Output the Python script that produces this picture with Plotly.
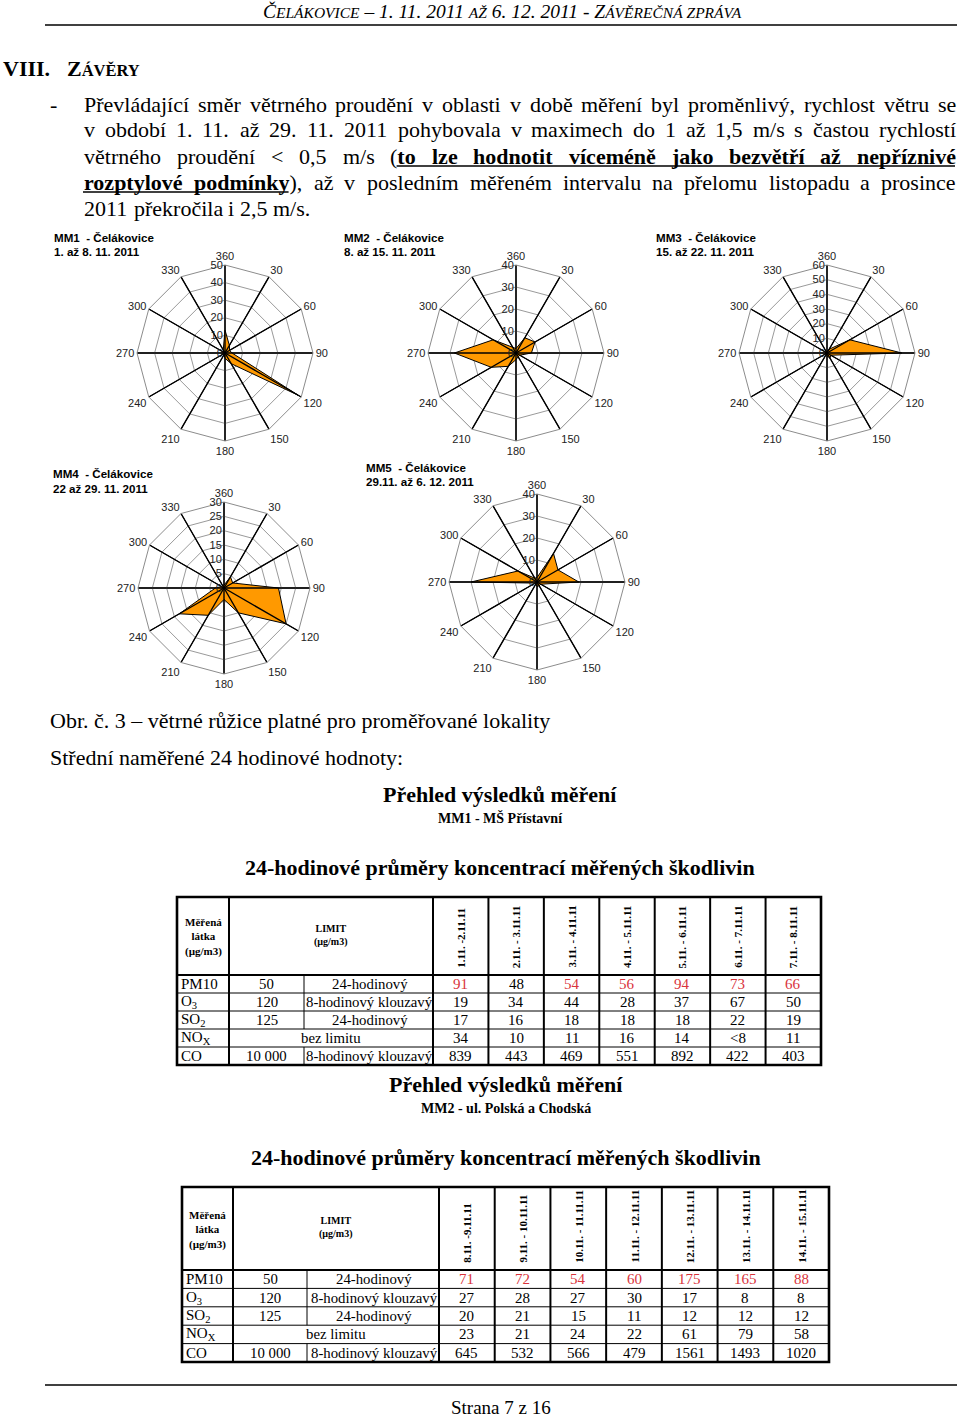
import unicodedata
import plotly.graph_objects as go

W, H = 960, 1418
SERIF = 'Liberation Serif'
SANS = 'Liberation Sans'
ORANGE = '#FF9900'
RED = '#D9333B'

# ---- wind roses: frequency of wind direction [%] in 12 sectors ----
DIR_LABELS = ['360', '30', '60', '90', '120', '150', '180', '210', '240', '270', '300', '330']
MM1_FREQ = [13, 5, 3, 4, 48, 7, 3, 1, 1, 2, 1, 2]
MM2_FREQ = [2, 8, 10, 7, 2, 2, 3, 7, 13, 28, 12, 3]
MM3_FREQ = [1, 3, 18, 51, 3, 4, 2, 1, 1, 1, 1, 1]
MM4_FREQ = [1, 4.5, 3.5, 19, 25, 10, 4, 11, 18, 3, 1, 1]
MM5_FREQ = [2, 15, 11, 19, 2, 2, 2, 1, 1, 30, 10, 2]
ROSE_NAMES = ['MM1  - Čelákovice', 'MM2  - Čelákovice', 'MM3  - Čelákovice',
              'MM4  - Čelákovice', 'MM5  - Čelákovice']
ROSE_PERIODS = ['1. až 8. 11. 2011', '8. až 15. 11. 2011', '15. až 22. 11. 2011',
                '22 až 29. 11. 2011', '29.11. až 6. 12. 2011']
ROSE_RMAX = [50, 40, 60, 30, 40]
ROSE_DTICK = [10, 10, 10, 5, 10]

# ---- tables: 24h averages [ug/m3] ----
ROW_NAMES = ['PM10', 'O<sub>3</sub>', 'SO<sub>2</sub>', 'NO<sub>X</sub>', 'CO']
LIMIT_VALUES = ['50', '120', '125', None, '10 000']
LIMIT_TYPES = ['24-hodinový', '8-hodinový klouzavý', '24-hodinový', 'bez limitu', '8-hodinový klouzavý']
PM10_LIMIT = 50

T1_DATES = ['1.11. -2.11.11', '2.11. - 3.11.11', '3.11. - 4.11.11', '4.11. - 5.11.11',
            '5.11. - 6.11.11', '6.11. - 7.11.11', '7.11. - 8.11.11']
T1_PM10 = [91, 48, 54, 56, 94, 73, 66]
T1_O3 = [19, 34, 44, 28, 37, 67, 50]
T1_SO2 = [17, 16, 18, 18, 18, 22, 19]
T1_NOX = [34, 10, 11, 16, 14, '<8', 11]
T1_CO = [839, 443, 469, 551, 892, 422, 403]

T2_DATES = ['8.11. -9.11.11', '9.11. - 10.11.11', '10.11. - 11.11.11', '11.11. - 12.11.11',
            '12.11. - 13.11.11', '13.11. - 14.11.11', '14.11. - 15.11.11']
T2_PM10 = [71, 72, 54, 60, 175, 165, 88]
T2_O3 = [27, 28, 27, 30, 17, 8, 8]
T2_SO2 = [20, 21, 15, 11, 12, 12, 12]
T2_NOX = [23, 21, 24, 22, 61, 79, 58]
T2_CO = [645, 532, 566, 479, 1561, 1493, 1020]

PARA_LINES = [
    'Převládající směr větrného proudění v oblasti v době měření byl proměnlivý, rychlost větru se',
    'v období 1. 11. až 29. 11. 2011 pohybovala v maximech do 1 až 1,5 m/s s častou rychlostí',
    'větrného proudění < 0,5 m/s (*to lze hodnotit víceméně jako bezvětří až nepříznivé',
    'rozptylové podmínky*), až v posledním měřeném intervalu na přelomu listopadu a prosince',
    '2011 překročila i 2,5 m/s.',
]

# Times metrics (per 1000 em) so the paragraph can be justified like the original
_low = 'abcdefghijklmnopqrstuvwxyz'
_up = 'ABCDEFGHIJKLMNOPQRSTUVWXYZ'
TIMES = dict(zip(_low, [444, 500, 444, 500, 444, 333, 500, 500, 278, 278, 500, 278, 778,
                        500, 500, 500, 500, 333, 389, 278, 500, 500, 722, 500, 500, 444]))
TIMES.update(zip(_up, [722, 667, 667, 722, 611, 556, 722, 722, 333, 389, 722, 611, 889,
                       722, 722, 556, 722, 667, 556, 611, 722, 722, 944, 722, 722, 611]))
TIMES.update({' ': 250, ',': 250, '.': 250, '/': 278, '(': 333, ')': 333, '<': 564, '-': 333})
TIMES.update({d: 500 for d in '0123456789'})
TIMES_B = dict(TIMES)
TIMES_B.update(zip(_low, [500, 556, 444, 556, 444, 333, 500, 556, 278, 333, 556, 278, 833,
                          556, 500, 556, 556, 444, 389, 333, 556, 500, 722, 500, 500, 444]))


def text_w(s, size, bold=False):
    tab = TIMES_B if bold else TIMES
    return sum(tab.get(unicodedata.normalize('NFD', c)[0], 500) for c in s) * size / 1000


def px(x):
    return x / W


def py(y):
    return 1 - y / H


def esc(s):
    return s.replace('<', '&lt;')


fig = go.Figure()
annots = []
shapes = []


def label(x, y, text, size, family=SERIF, xanchor='left', yanchor='middle', color='black', angle=0):
    annots.append(dict(x=px(x), y=py(y), xref='paper', yref='paper', text=text, showarrow=False,
                       xanchor=xanchor, yanchor=yanchor, textangle=angle, borderpad=0,
                       font=dict(family=family, size=size, color=color)))


def hline(x0, x1, y, w=1, color='black'):
    shapes.append(dict(type='line', xref='paper', yref='paper', x0=px(x0), x1=px(x1),
                       y0=py(y), y1=py(y), line=dict(color=color, width=w)))


def vline(x, y0, y1, w=1, color='black'):
    shapes.append(dict(type='line', xref='paper', yref='paper', x0=px(x), x1=px(x),
                       y0=py(y0), y1=py(y1), line=dict(color=color, width=w)))


# ---- page header ----
sm = "<span style='font-size:15.5px'>"
label(502, 12, '<i>Č' + sm + 'ELÁKOVICE</span> – 1. 11. 2011 ' + sm + 'AŽ</span> 6. 12. 2011 - Z'
      + sm + 'ÁVĚREČNÁ ZPRÁVA</span></i>', 19.5, xanchor='center')
hline(45, 957, 25, 1.3)
label(2, 68, '<b>VIII.</b>', 22)
label(66, 68, "<b>Z<span style='font-size:16.5px'>ÁVĚRY</span></b>", 22)
label(49, 104, '-', 22)

# ---- justified paragraph ----
X0, X1 = 83, 955
bold = False
for i, line in enumerate(PARA_LINES):
    yc = 104 + 26 * i
    words = []
    for raw in line.split(' '):
        segs, buf = [], ''
        for ch in raw:
            if ch == '*':
                if buf:
                    segs.append((buf, bold))
                    buf = ''
                bold = not bold
            else:
                buf += ch
        if buf:
            segs.append((buf, bold))
        words.append(segs)
    widths = [sum(text_w(t, 22, b) for t, b in segs) for segs in words]
    last = i == len(PARA_LINES) - 1
    gap = 22 * 0.25 if last else (X1 - X0 - sum(widths)) / (len(words) - 1)
    x = X0
    ul = []
    for segs, w in zip(words, widths):
        html = ''.join('<b>%s</b>' % esc(t) if b else esc(t) for t, b in segs)
        label(x, yc, html, 22)
        sx = x
        for t, b in segs:
            tw = text_w(t, 22, b)
            if b:
                ul.append((sx, sx + tw))
            sx += tw
        x += w + gap
    if ul:
        hline(ul[0][0], ul[-1][1], yc + 10, 1.6)

# ---- wind roses ----
ROSE_FREQ = [MM1_FREQ, MM2_FREQ, MM3_FREQ, MM4_FREQ, MM5_FREQ]
ROSE_CENTER = [(225, 353), (516, 353), (827, 353), (224, 588), (537, 582)]
ROSE_R = [88, 88, 88, 86, 88]
TITLE_POS = [(53, 238), (343, 238), (655, 238), (52, 474), (365, 467)]

layout_polars = {}
for k, (freq, (cx, cy), r, rmax, dt) in enumerate(zip(ROSE_FREQ, ROSE_CENTER, ROSE_R, ROSE_RMAX, ROSE_DTICK)):
    sub = 'polar' if k == 0 else 'polar%d' % (k + 1)
    fig.add_trace(go.Scatterpolar(r=freq + freq[:1], theta=DIR_LABELS + DIR_LABELS[:1], mode='lines',
                                  fill='toself', fillcolor=ORANGE, line=dict(color='black', width=1),
                                  subplot=sub, showlegend=False, hoverinfo='skip'))
    spoke_r, spoke_t = [], []
    for d in DIR_LABELS:
        spoke_r += [0, rmax, None]
        spoke_t += [d, d, None]
    fig.add_trace(go.Scatterpolar(r=spoke_r, theta=spoke_t, mode='lines', subplot=sub,
                                  line=dict(color='black', width=1.4), showlegend=False, hoverinfo='skip'))
    layout_polars[sub] = dict(
        domain=dict(x=[px(cx - r), px(cx + r)], y=[py(cy + r), py(cy - r)]),
        gridshape='linear', bgcolor='white',
        angularaxis=dict(type='category', categoryorder='array', categoryarray=DIR_LABELS,
                         rotation=90, direction='clockwise', ticks='', gridcolor='black', gridwidth=1.4,
                         linecolor='#8c8c8c', linewidth=1,
                         tickfont=dict(family=SANS, size=11, color='#222')),
        radialaxis=dict(range=[0, rmax], tick0=0, dtick=dt, angle=90, tickangle=90, side='counterclockwise',
                        ticks='', showline=False, gridcolor='#9a9a9a', gridwidth=0.8,
                        tickfont=dict(family=SANS, size=11, color='#222')),
    )
    tx, ty = TITLE_POS[k]
    label(tx, ty, '<b>%s</b>' % ROSE_NAMES[k], 11.6, family=SANS)
    label(tx, ty + 14, '<b>%s</b>' % ROSE_PERIODS[k], 11.6, family=SANS)

label(49, 720, 'Obr. č. 3 – větrné růžice platné pro proměřované lokality', 22)
label(49, 758, 'Střední naměřené 24 hodinové hodnoty:', 22)


# ---- tables ----
def draw_table(cx, y_title, site, xe, y_top, y_head, row_h, dates, rows):
    label(cx, y_title, '<b>Přehled výsledků měření</b>', 22, xanchor='center')
    label(cx, y_title + 24, '<b>%s</b>' % site, 14, xanchor='center')
    label(cx, y_title + 73, '<b>24-hodinové průměry koncentrací měřených škodlivin</b>', 22, xanchor='center')
    x_name, x_val, x_type, x_d0, x_end = xe
    n = len(dates)
    dx = (x_end - x_d0) / n
    edges = [x_d0 + j * dx for j in range(n + 1)]
    y_bot = y_head + row_h * len(rows)
    # grid
    for j in range(1, len(rows)):
        hline(x_name, x_end, y_head + j * row_h, 1)
    hline(x_name, x_end, y_head, 2.2)
    for x in [x_val] + edges[:-1]:
        vline(x, y_top, y_bot, 2)
    for j in range(len(rows)):
        if LIMIT_VALUES[j] is not None:
            vline(x_type, y_head + j * row_h, y_head + (j + 1) * row_h, 1)
    shapes.append(dict(type='rect', xref='paper', yref='paper', x0=px(x_name), x1=px(x_end),
                       y0=py(y_bot), y1=py(y_top), line=dict(color='black', width=2.6)))
    # header
    label((x_name + x_val) / 2, (y_top + y_head) / 2 + 1, '<b>Měřená<br>látka<br>(µg/m3)</b>', 11,
          xanchor='center')
    label((x_val + x_d0) / 2, (y_top + y_head) / 2 - 1, '<b>LIMIT<br>(µg/m3)</b>', 10, xanchor='center')
    for j, d in enumerate(dates):
        label((edges[j] + edges[j + 1]) / 2, y_head - 6, '<b>%s</b>' % d, 11, xanchor='center',
              yanchor='bottom', angle=-90)
    # body
    for j, vals in enumerate(rows):
        yc = y_head + (j + 0.5) * row_h
        label(x_name + 3, yc, ROW_NAMES[j], 15)
        if LIMIT_VALUES[j] is None:
            label((x_val + x_d0) / 2, yc, LIMIT_TYPES[j], 14.8, xanchor='center')
        else:
            label((x_val + x_type) / 2, yc, LIMIT_VALUES[j], 14.8, xanchor='center')
            label((x_type + x_d0) / 2 + 1, yc, LIMIT_TYPES[j], 14.8, xanchor='center')
        for c, v in enumerate(vals):
            col = RED if (j == 0 and v > PM10_LIMIT) else 'black'
            label((edges[c] + edges[c + 1]) / 2, yc, esc(str(v)), 15, xanchor='center', color=col)


draw_table(500, 794, 'MM1 - MŠ Přístavní', [177, 229, 304, 433, 821], 897, 975, 18, T1_DATES,
           [T1_PM10, T1_O3, T1_SO2, T1_NOX, T1_CO])
draw_table(506, 1084, 'MM2 - ul. Polská a Chodská', [182, 233, 307, 439, 829], 1187, 1270, 18.4, T2_DATES,
           [T2_PM10, T2_O3, T2_SO2, T2_NOX, T2_CO])

# ---- footer ----
hline(45, 957, 1385, 1.3)
label(501, 1407, 'Strana 7 z 16', 19, xanchor='center')

fig.update_layout(width=W, height=H, margin=dict(l=0, r=0, t=0, b=0), paper_bgcolor='white',
                  plot_bgcolor='white', showlegend=False, annotations=annots, shapes=shapes,
                  **layout_polars)
fig.write_html('out.html', config={'displayModeBar': False},
               post_script="document.body.style.margin='0';")
